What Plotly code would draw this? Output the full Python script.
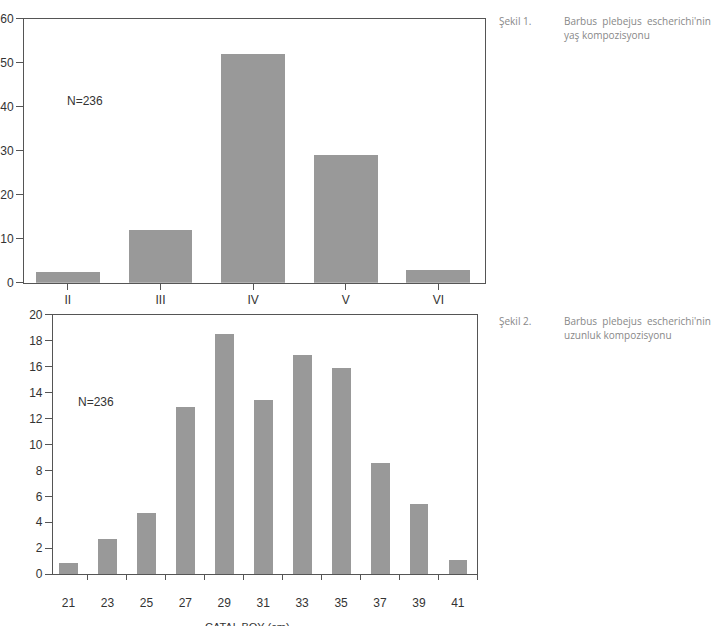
import plotly.graph_objects as go

# ---- data ----
age_classes = ["II", "III", "IV", "V", "VI"]
age_pct = [2.5, 12.0, 52.1, 29.2, 3.0]

length_classes = [21, 23, 25, 27, 29, 31, 33, 35, 37, 39, 41]
length_pct = [0.85, 2.7, 4.7, 12.9, 18.5, 13.4, 16.9, 15.9, 8.6, 5.4, 1.1]
length_boundaries = [22, 24, 26, 28, 30, 32, 34, 36, 38, 40, 42]

W, H = 717, 626
def px_x(p):
    return p / W
def px_y(p):
    return (H - p) / H

BAR = "#999999"
AX = "#555555"
TXT = "#333333"
FONT = "Liberation Sans"

fig = go.Figure()
fig.add_trace(go.Bar(x=age_classes, y=age_pct, width=0.69, marker=dict(color=BAR, line=dict(width=0)),
                     xaxis="x", yaxis="y", showlegend=False))
fig.add_trace(go.Bar(x=length_classes, y=length_pct, width=0.97, marker=dict(color=BAR, line=dict(width=0)),
                     xaxis="x2", yaxis="y2", showlegend=False))

common = dict(showgrid=False, zeroline=False, showline=True, linecolor=AX, linewidth=1,
              tickfont=dict(family=FONT, size=12, color=TXT), tickcolor=AX, mirror=True)

fig.update_layout(
    width=W, height=H, margin=dict(l=0, r=0, t=0, b=0),
    plot_bgcolor="white", paper_bgcolor="white",
    bargap=0,
    xaxis=dict(domain=[px_x(23), px_x(485)], anchor="y", type="category",
               range=[-0.474, 4.507], ticks="outside", ticklen=6, **common),
    yaxis=dict(domain=[px_y(282), px_y(12)], anchor="x", range=[0, 60], dtick=10,
               ticks="outside", ticklen=7, **common),
    xaxis2=dict(domain=[px_x(52), px_x(477)], anchor="y2", range=[20.2, 42],
                tickmode="array", tickvals=length_classes, ticktext=[str(v) for v in length_classes],
                ticks="outside", ticklen=0,
                minor=dict(tickmode="array", tickvals=length_boundaries, ticks="outside",
                           ticklen=5, tickcolor=AX, showgrid=False),
                ticklabelstandoff=18, **common),
    yaxis2=dict(domain=[px_y(580), px_y(315)], anchor="x2", range=[0, 20], dtick=2,
                ticks="outside", ticklen=7, **common),
)

ann = []
ann.append(dict(text="N=236", x=0.18, y=41.3, xref="x", yref="y", showarrow=False,
                font=dict(family=FONT, size=12, color=TXT)))
ann.append(dict(text="N=236", x=22.4, y=13.3, xref="x2", yref="y2", showarrow=False,
                font=dict(family=FONT, size=12, color=TXT)))
ann.append(dict(text="ÇATAL BOY (cm)", x=px_x(247), y=px_y(634), xref="paper", yref="paper",
                xanchor="center", yanchor="middle", showarrow=False,
                font=dict(family=FONT, size=11, color=TXT)))

cap_font = dict(family="Open Sans", size=10, color="#888888")
nb = "\u00a0"
captions = [
    (14, "Şekil 1.", "Barbus" + nb * 2 + "plebejus" + nb * 2 + "escherichi'nin", "yaş kompozisyonu"),
    (321, "Şekil 2.", "Barbus" + nb * 2 + "plebejus" + nb * 2 + "escherichi'nin", "uzunluk kompozisyonu"),
]
for yy, lab, l1, l2 in captions:
    ann.append(dict(text=lab, x=px_x(497), y=px_y(yy), xref="paper", yref="paper",
                    xanchor="left", yanchor="middle", showarrow=False, font=cap_font))
    ann.append(dict(text=l1, x=px_x(562), y=px_y(yy), xref="paper", yref="paper",
                    xanchor="left", yanchor="middle", showarrow=False, font=cap_font))
    ann.append(dict(text=l2, x=px_x(562), y=px_y(yy + 15), xref="paper", yref="paper",
                    xanchor="left", yanchor="middle", showarrow=False, font=cap_font))

fig.update_layout(annotations=ann)
fig.write_html("out.html")
